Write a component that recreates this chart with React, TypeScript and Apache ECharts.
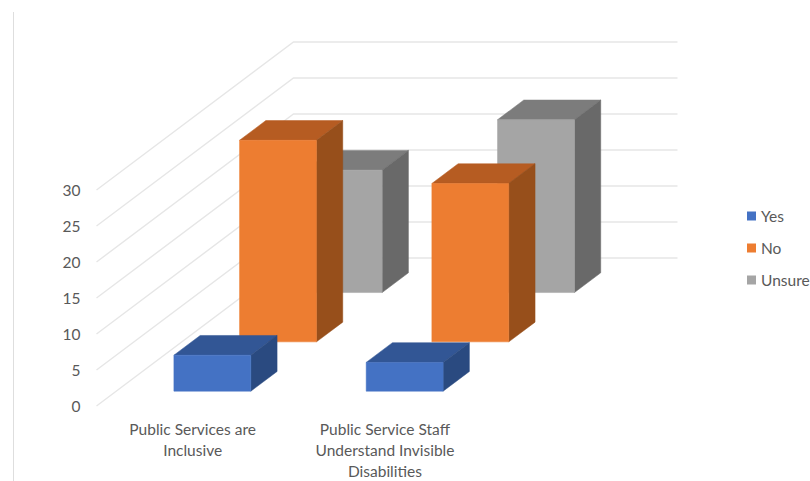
import React, { useEffect, useRef } from "react";
import * as echarts from "echarts";

const categories = ["Public Services are\nInclusive", "Public Service Staff\nUnderstand Invisible\nDisabilities"];
const seriesNames = ["Yes", "No", "Unsure"];
const yesValues = [5, 4];
const noValues = [28, 22];
const unsureValues = [17, 24];
const wallTicks = [0, 5, 10, 15, 20, 25, 30];

const frontColors = ["#4472C4", "#ED7D31", "#A5A5A5"];
const topColors = ["#325695", "#B65C22", "#7C7C7C"];
const sideColors = ["#2A4A80", "#974F1B", "#696969"];

// Oblique projection of the chart's depth axis: three rows of 65.67 x 49.33 px.
const ROW_DX = 65.67;
const ROW_DY = 49.33;
const BACK_WIDTH = 384;
const GAP = 0.3;
const TEXT = "#595959";
const FONT = "Lato";
const FONT_SIZE = 15.5;

function barRenderer(row: number) {
  return (params: any, api: any) => {
    const cat = api.value(0);
    const val = api.value(1);
    const origin = api.coord([cat, 0]);
    const top = api.coord([cat, val]);
    const band = api.size([1, 0])[0];
    const w = band * (1 - 2 * GAP);
    const depthX = ROW_DX * (1 - 2 * GAP);
    const depthY = ROW_DY * (1 - 2 * GAP);
    const x0 = origin[0] - w / 2 + (row + GAP) * ROW_DX;
    const x1 = x0 + w;
    const yBase = origin[1] - (row + GAP) * ROW_DY;
    const yTop = yBase - (origin[1] - top[1]);
    const face = (points: number[][], fill: string) => ({
      type: "polygon",
      shape: { points },
      style: { fill, stroke: fill, lineWidth: 0.5 },
    });
    return {
      type: "group",
      children: [
        face([[x0, yTop], [x1, yTop], [x1 + depthX, yTop - depthY], [x0 + depthX, yTop - depthY]], topColors[row]),
        face([[x1, yBase], [x1 + depthX, yBase - depthY], [x1 + depthX, yTop - depthY], [x1, yTop]], sideColors[row]),
        face([[x0, yBase], [x1, yBase], [x1, yTop], [x0, yTop]], frontColors[row]),
      ],
    };
  };
}

function wallRenderer(params: any, api: any) {
  const p = api.coord([0, api.value(1)]);
  const x0 = p[0] - api.size([1, 0])[0] / 2;
  const bx = x0 + ROW_DX * 3;
  const by = p[1] - ROW_DY * 3;
  return {
    type: "polyline",
    shape: { points: [[x0, p[1]], [bx, by], [bx + BACK_WIDTH, by]] },
    style: { stroke: "#E6E6E6", lineWidth: 1.4, fill: "none" },
  };
}

export default function App() {
  const ref = useRef<HTMLDivElement>(null);
  useEffect(() => {
    const chart = echarts.init(ref.current!, undefined, { renderer: "svg" });
    const valueSets = [yesValues, noValues, unsureValues];
    chart.setOption({
      animation: false,
      backgroundColor: "#ffffff",
      grid: { left: 96.5, top: 190, width: 384.6, height: 216, outerBoundsMode: "none" },
      xAxis: {
        type: "category",
        data: categories,
        axisLine: { show: false },
        axisTick: { show: false },
        splitLine: { show: false },
        axisLabel: { interval: 0, margin: 12, color: TEXT, fontFamily: FONT, fontSize: FONT_SIZE, lineHeight: 21 },
      },
      yAxis: {
        type: "value",
        min: 0,
        max: 30,
        interval: 5,
        axisLine: { show: false },
        axisTick: { show: false },
        splitLine: { show: false },
        axisLabel: { margin: 16, color: TEXT, fontFamily: FONT, fontSize: FONT_SIZE },
      },
      legend: {
        orient: "vertical",
        left: 747,
        top: 208,
        padding: 0,
        itemWidth: 9,
        itemHeight: 9,
        itemGap: 16,
        icon: "rect",
        data: seriesNames,
        textStyle: { color: TEXT, fontFamily: FONT, fontSize: FONT_SIZE },
      },
      graphic: [
        { type: "line", shape: { x1: 13.5, y1: 12, x2: 13.5, y2: 481 }, style: { stroke: "#DEDEDE", lineWidth: 1 } },
      ],
      series: [
        {
          type: "custom",
          name: "walls",
          z: 1,
          silent: true,
          renderItem: wallRenderer,
          data: wallTicks.map((t) => [0, t]),
        },
        ...seriesNames.map((name, row) => ({
          type: "custom",
          name,
          z: 5 - row,
          itemStyle: { color: frontColors[row] },
          renderItem: barRenderer(row),
          encode: { x: 0, y: 1 },
          data: valueSets[row].map((v, i) => [i, v]),
        })),
      ],
    });
    return () => chart.dispose();
  }, []);
  return <div ref={ref} style={{ position: "fixed", left: 0, top: 0, width: 810, height: 481 }} />;
}
